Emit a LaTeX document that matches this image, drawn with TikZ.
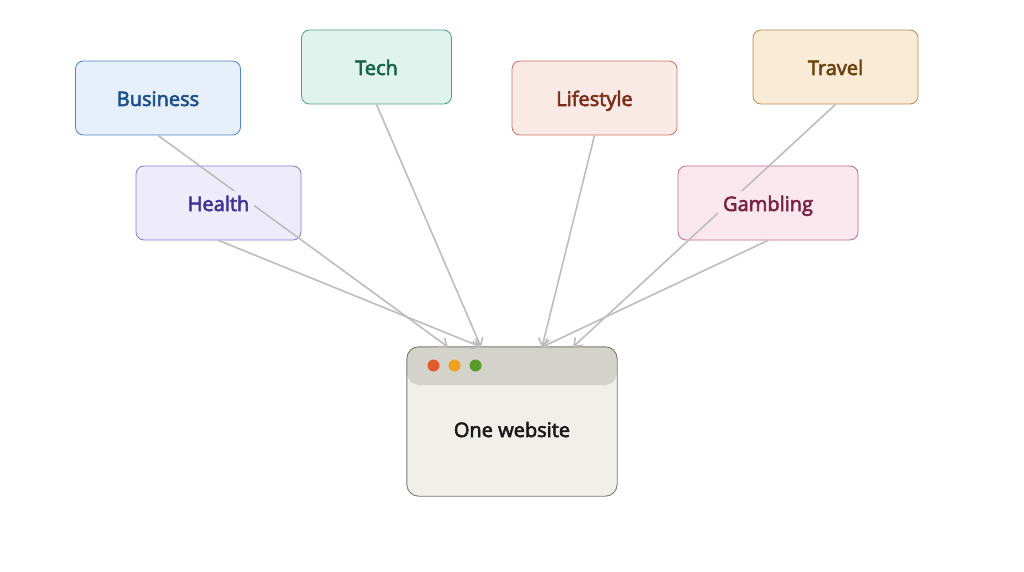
\documentclass[tikz,border=0pt]{standalone}
\usepackage{fontspec}
\newfontfamily\labfont[FakeBold=3]{Open Sans}
\usetikzlibrary{arrows.meta}
\definecolor{busF}{HTML}{E6F0FB}\definecolor{busD}{HTML}{4A86C8}\definecolor{busT}{HTML}{1F4E8C}
\definecolor{tecF}{HTML}{E0F3EC}\definecolor{tecD}{HTML}{4E9E84}\definecolor{tecT}{HTML}{17634A}
\definecolor{lifF}{HTML}{FAEAE5}\definecolor{lifD}{HTML}{C87060}\definecolor{lifT}{HTML}{7A2E1A}
\definecolor{traF}{HTML}{FAEBD7}\definecolor{traD}{HTML}{B88A50}\definecolor{traT}{HTML}{6B4210}
\definecolor{heaF}{HTML}{EEEBFB}\definecolor{heaD}{HTML}{8878D8}\definecolor{heaT}{HTML}{3F3590}
\definecolor{gamF}{HTML}{FBE8EF}\definecolor{gamD}{HTML}{C06A8A}\definecolor{gamT}{HTML}{7A2444}
\definecolor{webF}{HTML}{F1EFE9}\definecolor{webD}{HTML}{7A7870}\definecolor{webH}{HTML}{D3D2CB}
\definecolor{dotR}{HTML}{E05A2E}\definecolor{dotY}{HTML}{F0A020}\definecolor{dotG}{HTML}{5A9A2A}
\definecolor{conn}{HTML}{BDBDBD}
\tikzset{
  catbox/.style={rectangle, rounded corners=8pt, line width=0.8pt, minimum width=165pt, minimum height=74pt, inner sep=0pt},
  catlabel/.style={font=\labfont\fontsize{20}{24}\selectfont, inner sep=5pt, anchor=base, yshift=-8pt},
  connector/.style={draw=conn, line width=1.6pt, -{Straight Barb[length=7pt,width=11pt,line width=1.6pt]}},
  winbox/.style={rectangle, rounded corners=12pt, minimum width=210pt, minimum height=149pt, inner sep=0pt},
  dot/.style={circle, minimum size=12pt, inner sep=0pt}
}
\begin{document}
\begin{tikzpicture}[x=1pt,y=-1pt]
\useasboundingbox (0,0) rectangle (1024,572);
% category boxes
\node[catbox, fill=busF, draw=busD] (business) at (158,98) {};
\node[catbox, fill=tecF, draw=tecD, minimum width=150pt] (tech) at (376.5,67) {};
\node[catbox, fill=lifF, draw=lifD] (lifestyle) at (594.5,98) {};
\node[catbox, fill=traF, draw=traD] (travel) at (835.5,67) {};
\node[catbox, fill=heaF, draw=heaD] (health) at (218.5,203) {};
\node[catbox, fill=gamF, draw=gamD, minimum width=180pt] (gambling) at (768,203) {};
% website window
\node[winbox, fill=webF] (web) at (512,421.5) {};
\begin{scope}
  \clip[rounded corners=12pt] (web.north west) rectangle (web.south east);
  \fill[webH, rounded corners=12pt] (407,330) rectangle (617,385);
\end{scope}
\draw[webD, line width=0.9pt, rounded corners=12pt] (web.north west) rectangle (web.south east);
\node[dot, fill=dotR] (d1) at (433.5,365.5) {};
\node[dot, fill=dotY] (d2) at (454.5,365.5) {};
\node[dot, fill=dotG] (d3) at (475.5,365.5) {};
\node[font=\labfont\fontsize{20}{24}\selectfont, text=black!90, anchor=base] (webtext) at (512,437) {One website};
% arrow targets
\coordinate (t1) at (448,347);
\coordinate (t2) at (481,347);
\coordinate (t3) at (542,347);
\coordinate (t4) at (573,347);
% connectors
\draw[connector] (business.south) -- (t1);
\draw[connector] (health.south) -- (t2);
\draw[connector] (tech.south) -- (t2);
\draw[connector] (lifestyle.south) -- (t3);
\draw[connector] (gambling.south) -- (t3);
\draw[connector] (travel.south) -- (t4);
% labels (cover lines)
\node[catlabel, fill=busF, text=busT] (lbus) at (business.center) {Business};
\node[catlabel, fill=tecF, text=tecT] (ltec) at (tech.center) {Tech};
\node[catlabel, fill=lifF, text=lifT] (llif) at (lifestyle.center) {Lifestyle};
\node[catlabel, fill=traF, text=traT] (ltra) at (travel.center) {Travel};
\node[catlabel, fill=heaF, text=heaT] (lhea) at (health.center) {Health};
\node[catlabel, fill=gamF, text=gamT] (lgam) at (gambling.center) {Gambling};
\end{tikzpicture}
\end{document}
